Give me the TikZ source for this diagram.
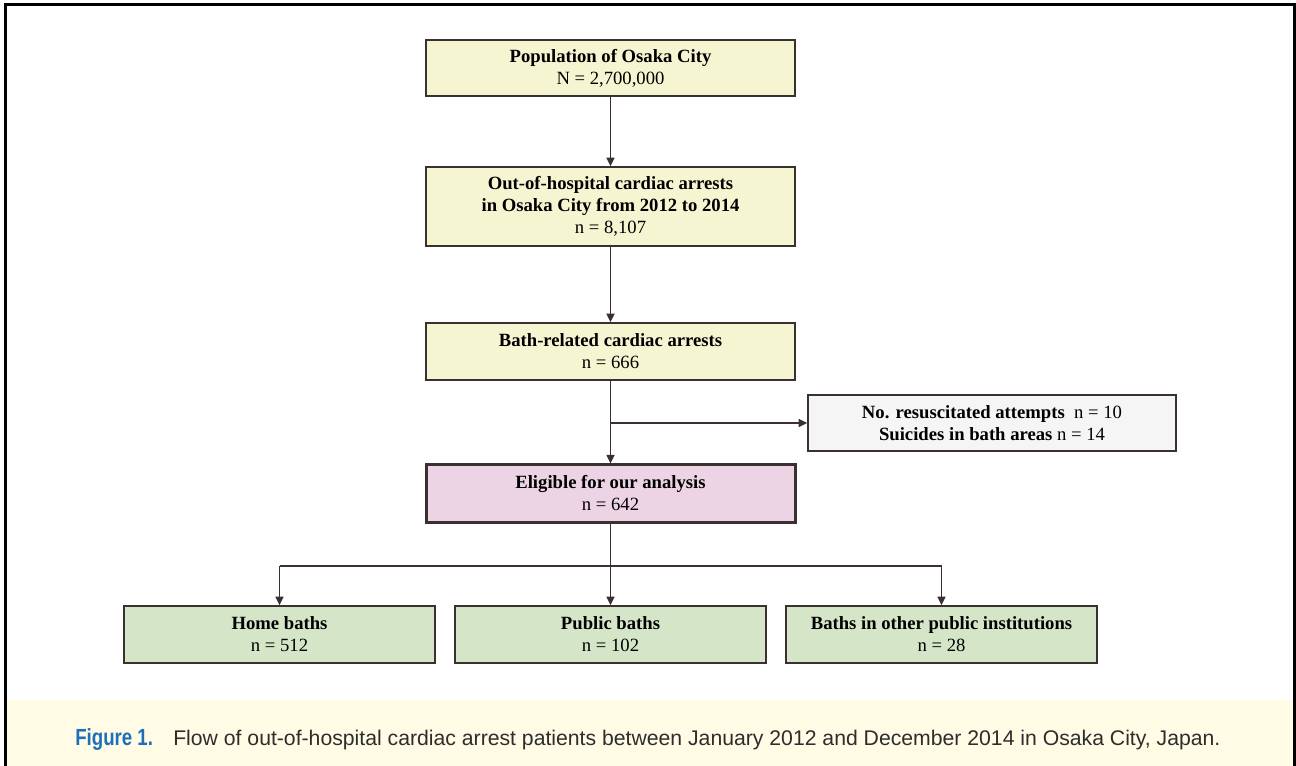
\documentclass[tikz,border=0pt]{standalone}
\usepackage{fontspec}
\setmainfont{Liberation Serif}
\newfontfamily\capsans{Liberation Sans}
\newfontfamily\capfig[FakeStretch=0.8]{Liberation Sans}
\usetikzlibrary{arrows.meta}
\definecolor{boxline}{RGB}{58,48,48}
\definecolor{yel}{RGB}{246,245,210}
\definecolor{gry}{RGB}{245,245,245}
\definecolor{pnk}{RGB}{237,212,229}
\definecolor{grn}{RGB}{213,230,200}
\definecolor{capbg}{RGB}{255,251,229}
\definecolor{capblue}{RGB}{30,110,185}
\definecolor{captext}{RGB}{45,45,45}
\tikzset{
  fbox/.style={draw=boxline, line width=1.1pt, align=center, inner sep=0pt,
    font=\fontsize{14}{16.5}\selectfont, text=black},
  widebox/.style={fbox, minimum width=276.75pt},
  botbox/.style={fbox, fill=grn, minimum width=233.25pt, minimum height=42.75pt},
  arr/.style={draw=boxline, line width=1.1pt, -{Triangle[length=6.5pt,width=6pt]}},
  ln/.style={draw=boxline, line width=1.1pt},
}
\begin{document}
\begin{tikzpicture}[x=0.75pt,y=-0.75pt]
\useasboundingbox (0,0) rectangle (1296,766);
\fill[capbg] (6,700) rectangle (1293,766);
\draw[line width=2.25pt] (5,770) -- (5,5) -- (1294,5) -- (1294,770);

\node[widebox, fill=yel, minimum height=42pt] (pop) at (610.5,68)
  {\textbf{Population of Osaka City}\\N = 2,700,000};
\node[widebox, fill=yel, minimum height=59.25pt] (ohca) at (610.5,206.5)
  {\textbf{Out-of-hospital cardiac arrests}\\\textbf{in Osaka City from 2012 to 2014}\\n = 8,107};
\node[widebox, fill=yel, minimum height=42.75pt] (bath) at (610.5,351.5)
  {\textbf{Bath-related cardiac arrests}\\n = 666};
\node[fbox, fill=gry, minimum width=276pt, minimum height=42pt] (excl) at (992,423)
  {\textbf{No. resuscitated attempts}\ \ n = 10\\\textbf{Suicides in bath areas} n = 14};
\node[widebox, fill=pnk, line width=2.25pt, minimum height=42.75pt] (elig) at (610.5,493.5)
  {\textbf{Eligible for our analysis}\\n = 642};
\node[botbox] (home) at (279.5,634.5) {\textbf{Home baths}\\n = 512};
\node[botbox] (pub) at (610.5,634.5) {\textbf{Public baths}\\n = 102};
\node[botbox] (oth) at (941.5,634.5) {\textbf{Baths in other public institutions}\\n = 28};

\draw[arr] (pop) -- (ohca);
\draw[arr] (ohca) -- (bath);
\draw[arr] (bath) -- (elig);
\coordinate (j1) at (610.5,423);
\draw[arr] (j1) -- (excl.west);
\coordinate (j2) at (610.5,566);
\draw[ln] (elig) -- (j2);
\draw[ln] (home.north |- j2) -- (oth.north |- j2);
\draw[arr] (home.north |- j2) -- (home.north);
\draw[arr] (j2) -- (pub.north);
\draw[arr] (oth.north |- j2) -- (oth.north);

\node[anchor=base west, inner sep=0pt, font=\capfig\bfseries\fontsize{17.5}{20}\selectfont, text=capblue] (figlab) at (75,745) {Figure 1.};
\node[anchor=base west, inner sep=0pt, font=\capsans\fontsize{15.9}{18}\selectfont, text=captext] (captxt) at (173,745)
  {Flow of out-of-hospital cardiac arrest patients between January 2012 and December 2014 in Osaka City, Japan.};
\end{tikzpicture}
\end{document}
